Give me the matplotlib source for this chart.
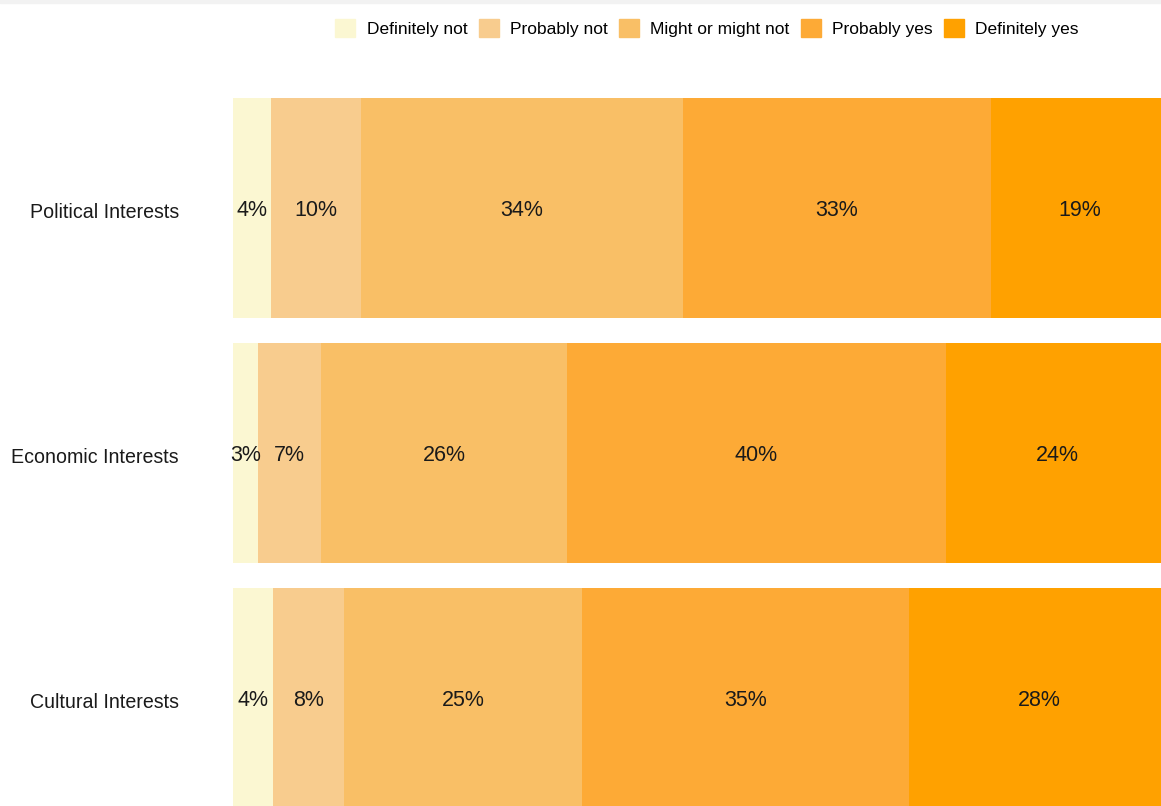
import matplotlib
matplotlib.use("Agg")
import matplotlib.pyplot as plt
import matplotlib.patches as mpatches
import numpy as np

plt.rcParams['font.family'] = ['Liberation Sans', 'DejaVu Sans']

categories = ["Political Interests", "Economic Interests", "Cultural Interests"]
responses = ["Definitely not", "Probably not", "Might or might not", "Probably yes", "Definitely yes"]
colors = ["#FBF7D2", "#F8CC8E", "#F9BF66", "#FDAA36", "#FFA100"]

definitely_not = [4.06, 2.67, 4.27]
probably_not = [9.6, 6.73, 7.59]
might_or_might_not = [34.4, 26.28, 25.43]
probably_yes = [32.9, 40.45, 34.94]
definitely_yes = [19.04, 23.87, 27.77]

series = [definitely_not, probably_not, might_or_might_not, probably_yes, definitely_yes]

W, H = 1161, 806
fig = plt.figure(figsize=(W / 100, H / 100), dpi=100)
# axes placed so bars start at x=233px and run past the right edge
ax = fig.add_axes([233 / W, 0, 936 / W, 1])
ax.patch.set_visible(False)

y = np.arange(len(categories))
left = np.zeros(len(categories))
for vals, col, name in zip(series, colors, responses):
    vals = np.array(vals)
    ax.barh(y, vals, left=left, height=0.9, color=col, label=name)
    for yi, l, v in zip(y, left, vals):
        ax.text(l + v / 2, yi + 0.01, f"{round(v)}%", ha="center", va="center",
                fontsize=15.5, color="#1a1a1a")
    left += vals

ax.set_xlim(0, 100)
ax.set_ylim(2.441, -0.849)
for s in ax.spines.values():
    s.set_visible(False)
ax.set_xticks([])
ax.set_yticks(y + 0.01)
ax.set_yticklabels(categories, fontsize=14.1, color="#1a1a1a")
ax.tick_params(axis="y", length=0, pad=39)

handles = [mpatches.Patch(color=c, label=r) for c, r in zip(colors, responses)]
fig.legend(handles=handles, loc="center", bbox_to_anchor=(707 / W, 1 - 28 / H),
           ncol=5, frameon=False, fontsize=12.5, handlelength=1.15, handleheight=1.2,
           columnspacing=0.65, handletextpad=0.65, borderpad=0)

# thin grey strip at the very top (cropped header)
fig.add_artist(mpatches.Rectangle((0, 1 - 3 / H), 1, 3 / H, transform=fig.transFigure,
                                  color="#F2F2F2", zorder=5))

fig.savefig("out.png", dpi=100)
